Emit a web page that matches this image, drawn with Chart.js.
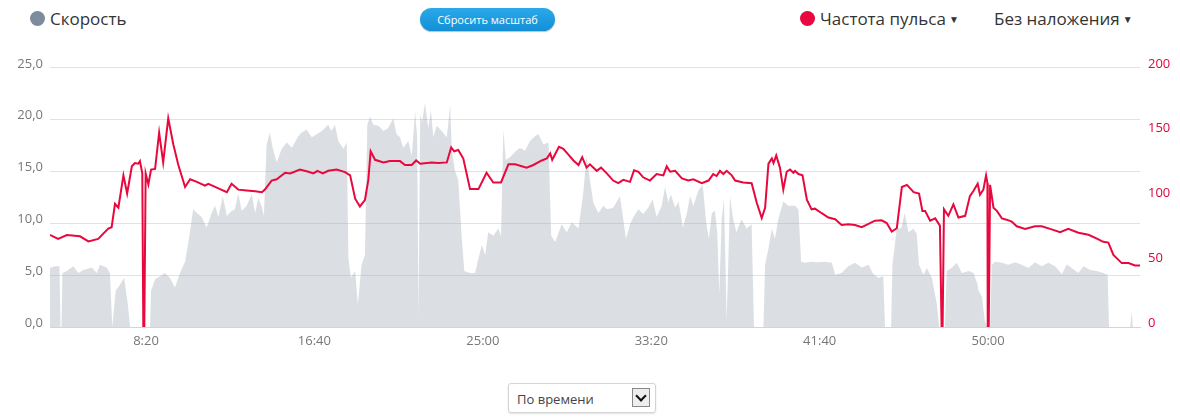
<!DOCTYPE html>
<html>
<head>
<meta charset="utf-8">
<script src="https://cdn.jsdelivr.net/npm/chart.js@4"></script>
<style>
  body { margin: 0; width: 1180px; height: 419px; background: #fff; font-family: "Open Sans", sans-serif; position: relative; overflow: hidden; }
  .legend { position: absolute; top: 7px; font-size: 17px; color: #333; display: flex; align-items: center; }
  .dot { width: 15px; height: 15px; border-radius: 50%; display: inline-block; margin-right: 5px; }
  .caret { font-size: 10px; margin-left: 3px; }
  .btn { position: absolute; left: 420px; top: 8px; width: 135px; height: 23px; border-radius: 12px; background: linear-gradient(#2aa9ea, #148fd6); color: #fff; font-size: 11px; text-align: center; line-height: 23px; box-shadow: 0 1px 1px rgba(0,0,0,0.25); }
  #wrap { position: absolute; left: 0; top: 52px; width: 1180px; height: 308px; }
  .sel { position: absolute; left: 508px; top: 383px; width: 148px; height: 30px; border: 1px solid #d4d4d4; border-radius: 3px; box-shadow: 0 1px 2px rgba(0,0,0,0.12); font-size: 13px; color: #444; line-height: 30px; box-sizing: border-box; padding-left: 8px; }
  .sel .arr { position: absolute; right: 5px; top: 4px; width: 18px; height: 19px; border: 1px solid #888; background: #eee; box-sizing: border-box; }
  .sel .arr:after { content: ""; position: absolute; left: 4px; top: 3px; width: 6px; height: 6px; border-right: 2px solid #111; border-bottom: 2px solid #111; transform: rotate(45deg); }
</style>
</head>
<body>
<div class="legend" style="left:30px;"><span class="dot" style="background:#7d8c9c;"></span>Скорость</div>
<div class="btn">Сбросить масштаб</div>
<div class="legend" style="left:800px;"><span class="dot" style="background:#e8083e;"></span>Частота пульса<span class="caret">▼</span></div>
<div class="legend" style="left:994px;">Без наложения<span class="caret">▼</span></div>
<div id="wrap"><canvas id="myChart"></canvas></div>
<div class="sel">По времени<span class="arr"></span></div>
<script>
// time in seconds
const hrTime = [215,239,265,304,329,358,388,398,408,418,433,444,458,467,477,482,489,492,495,499,507,515,527,539,551,566,581,596,616,631,651,675,685,715,740,754,774,799,824,844,853,873,888,913,928,957,982,997,1009,1025,1041,1066,1091,1106,1121,1135,1150,1160,1167,1180,1205,1224,1254,1269,1289,1302,1314,1348,1368,1393,1406,1415,1427,1442,1462,1487,1511,1531,1554,1576,1596,1630,1650,1675,1690,1700,1706,1726,1739,1754,1769,1784,1795,1808,1818,1838,1851,1868,1887,1902,1917,1937,1949,1962,1976,1996,2016,2036,2046,2056,2071,2091,2110,2125,2150,2170,2184,2194,2204,2214,2224,2239,2249,2273,2298,2313,2328,2338,2348,2358,2363,2371,2382,2392,2402,2412,2422,2427,2437,2449,2462,2476,2486,2506,2526,2546,2565,2585,2605,2625,2645,2664,2684,2699,2714,2729,2744,2759,2779,2795,2805,2813,2828,2843,2857,2862,2865,2869,2882,2897,2912,2932,2946,2956,2969,2976,2986,2994,2998,2999,3002,3006,3016,3026,3041,3055,3070,3085,3110,3139,3159,3184,3214,3238,3268,3298,3323,3342,3357,3372,3397,3417,3436,3451];
const hrValue = [71,68,71,70,66,68,76,77,95,92,117,103,124,126.5,126,128,118.5,0,0,118.5,110,121.5,122,150,127,161,141,125,108,114,112,109,110.5,107,104,110.5,106,105.4,104.7,104,106,113,114,119,118.5,121.5,119.8,118.5,120.5,118.5,120.5,121.5,119.5,117,99,93,98,113.5,135.6,129,127,128,128,125,125,128.5,126,127,126.5,127,138.6,135.6,136.6,130,106.4,106.4,119,111.5,111.5,125.5,125.5,123,125,128.5,130,134,129,139,137.4,133,128.5,125,131,123,125.5,120.5,123,118.5,113,111,113.5,112,121,119.8,115.5,113,118,117,124,119.8,120.5,114.7,113,114,111,113,118,116.5,120.5,118,120.5,117,113,111.5,111,96,84,92,126,130,126.5,132.3,123,106,119.8,121.5,119,120.5,118,117,98.3,90.8,91.3,87.8,84.5,83.2,78.7,79.2,78.7,77,79.5,82,82.3,80.2,73.7,76.2,108,109.7,104,103,89.6,89.6,82,83.8,78.2,0,0,90.8,85.8,94.6,84.5,85.8,101,104.7,110.5,102,106,117,111,0,0,109.7,92,89.6,83.8,82.8,81.3,77.7,75.7,77.7,77.7,75.7,73.2,75.7,72.7,71.2,68.2,65.7,65.1,55.6,49.3,49.3,47.5,47.5];

const speedTime = [215,230,243,246,249,252,265,284,299,314,339,354,363,383,393,400,410,423,435,446,453,512,515,527,542,556,571,586,601,616,626,640,651,665,680,695,705,715,728,740,754,764,774,784,799,814,824,833,843,850,858,868,876,888,903,918,933,952,962,977,992,1007,1022,1041,1051,1061,1071,1086,1096,1101,1108,1121,1129,1140,1150,1157,1165,1175,1190,1205,1219,1234,1244,1254,1264,1279,1289,1299,1305,1309,1314,1320,1328,1338,1346,1353,1363,1378,1393,1403,1408,1417,1427,1437,1445,1462,1477,1487,1497,1507,1516,1531,1546,1554,1561,1568,1581,1596,1610,1625,1640,1655,1665,1680,1695,1703,1715,1734,1749,1764,1784,1798,1808,1818,1828,1843,1858,1868,1887,1907,1917,1925,1937,1947,1962,1976,1991,2004,2016,2031,2041,2051,2058,2071,2081,2094,2106,2115,2125,2140,2153,2163,2171,2180,2189,2196,2202,2209,2216,2224,2234,2243,2253,2268,2283,2298,2305,2333,2338,2348,2358,2367,2377,2392,2407,2427,2437,2445,2457,2476,2496,2516,2536,2546,2565,2585,2605,2625,2645,2659,2674,2689,2694,2712,2716,2729,2742,2752,2764,2778,2788,2795,2808,2818,2833,2848,2855,2872,2877,2892,2907,2922,2942,2957,2967,2972,2982,2990,2997,3006,3011,3021,3041,3060,3080,3100,3120,3139,3159,3179,3199,3219,3234,3248,3268,3283,3303,3323,3342,3355,3359,3422,3426,3430,3451];
const speedValue = [5.7,5.85,5.85,0,0,5.2,5.4,5.85,5.2,5.5,5.75,5.2,6.0,5.75,5.2,0,3.5,4.1,4.75,2.2,0,0,3.5,4.6,4.9,5.2,4.75,3.8,5.2,6.3,8.2,11.35,11.0,10.6,9.6,11.0,11.7,10.6,12.6,10.7,11.2,11.35,12.9,11.2,11.7,12.8,11.0,12.45,11.7,10.7,17.6,18.75,17.3,15.9,17.2,17.8,17.3,18.4,18.75,19.05,18.3,18.6,18.9,19.5,18.9,19.5,17.95,17.2,17.8,6.6,4.75,5.4,2.2,6.0,6.95,19.5,20.3,19.5,19.4,18.9,19.2,20.1,18.6,18.3,17.3,17.95,16.5,20.8,18.3,1.0,20.5,19.8,21.6,19.2,20.9,18.3,19.4,18.9,18.3,21.4,17.0,15.1,14.2,8.8,5.4,5.2,5.2,6.6,7.9,6.95,9.15,8.8,9.5,8.8,19.05,16.1,16.4,16.9,17.3,17.0,17.95,18.4,18.6,17.6,17.8,8.8,8.2,9.9,9.15,10.1,9.5,12.9,16.5,14.2,12.0,11.0,11.7,11.35,11.5,12.6,10.4,8.5,9.9,10.6,11.35,10.9,11.5,12.3,10.6,11.7,13.5,12.0,12.8,11.5,12.1,9.6,11.0,12.6,11.7,13.2,13.7,10.1,8.5,11.0,11.2,9.15,3.2,10.4,12.3,0.65,12.6,10.4,9.15,10.4,9.5,9.9,0,0,6.0,7.6,9.5,8.5,10.4,12.1,11.7,11.7,11.35,6.3,6.2,6.3,6.25,6.3,6.2,5.05,5.2,5.85,6.2,5.75,6.0,5.1,4.75,4.9,0,0,6.0,9.5,9.5,11.0,9.15,9.5,9.0,6.0,5.05,5.7,4.75,2.2,0,0,5.4,5.7,6.2,5.2,5.4,5.2,4.3,3.5,2.9,0.65,0,0,6.0,6.3,6.2,6.0,6.25,6.0,5.7,6.25,5.85,6.2,5.85,5.1,6.05,5.7,5.2,5.85,5.5,5.4,5.2,5.05,0,0,1.45,0,0];

const timeTicks = [500,1000,1500,2000,2500,3000];
const speedTicks = [0,5,10,15,20,25];
const hrTicks = [0,50,100,150,200];

const toPoints = (xs, ys) => xs.map((x, i) => ({x: x, y: ys[i]}));
const fmtTime = s => Math.floor(s / 60) + ':' + String(s % 60).padStart(2, '0');

const ctx = document.getElementById('myChart');
new Chart(ctx, {
  type: 'line',
  data: {
    datasets: [{
      label: 'Частота пульса',
      data: toPoints(hrTime, hrValue),
      yAxisID: 'yHr',
      borderColor: '#e8083e',
      borderWidth: 2,
      pointRadius: 0,
      fill: false,
      tension: 0
    }, {
      label: 'Скорость',
      data: toPoints(speedTime, speedValue),
      yAxisID: 'ySpeed',
      borderWidth: 0,
      borderColor: 'rgba(0,0,0,0)',
      backgroundColor: 'rgba(160,170,182,0.38)',
      pointRadius: 0,
      fill: 'origin',
      tension: 0
    }]
  },
  options: {
    responsive: true,
    maintainAspectRatio: false,
    animation: false,
    layout: { padding: { top: 10, left: 0, right: 0, bottom: 0 } },
    plugins: { legend: { display: false }, tooltip: { enabled: false } },
    scales: {
      x: {
        type: 'linear',
        min: 215,
        max: 3451,
        afterBuildTicks: s => { s.ticks = timeTicks.map(v => ({value: v})); },
        afterFit: s => { s.height = 33; },
        grid: { display: false, drawTicks: false },
        border: { color: '#ccd6e0' },
        ticks: { color: '#777', font: { family: 'Open Sans', size: 13 }, padding: 6, maxRotation: 0, callback: v => fmtTime(v) }
      },
      ySpeed: {
        position: 'left',
        min: 0,
        max: 25,
        afterBuildTicks: s => { s.ticks = speedTicks.map(v => ({value: v})); },
        afterFit: s => { s.width = 50; },
        grid: { color: '#dfe2e6', drawTicks: false },
        border: { display: false },
        ticks: { color: '#777', font: { family: 'Open Sans', size: 13 }, padding: 7, labelOffset: -4, callback: v => v.toFixed(1).replace('.', ',') }
      },
      yHr: {
        position: 'right',
        min: 0,
        max: 200,
        afterBuildTicks: s => { s.ticks = hrTicks.map(v => ({value: v})); },
        afterFit: s => { s.width = 40; },
        grid: { display: false, drawTicks: false },
        border: { display: false },
        ticks: { color: '#d9063c', font: { family: 'Open Sans', size: 13 }, padding: 8, labelOffset: -4 }
      }
    }
  }
});
</script>
</body>
</html>
